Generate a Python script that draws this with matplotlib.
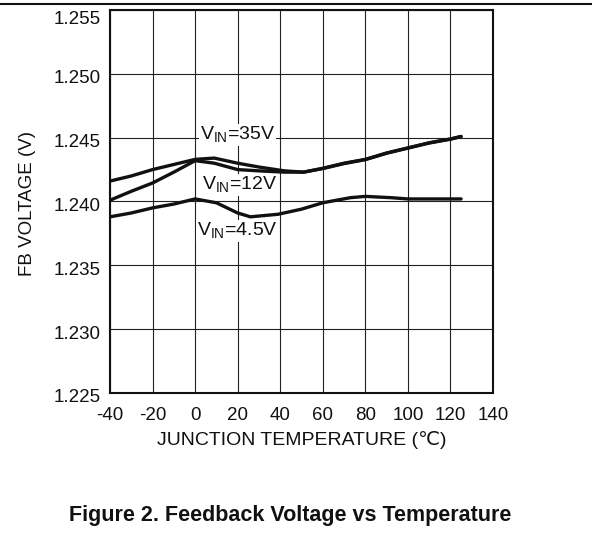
import matplotlib
matplotlib.use("Agg")
import matplotlib.pyplot as plt
import matplotlib.transforms as mtransforms
from matplotlib.lines import Line2D

plt.rcParams['font.family'] = ['Liberation Sans', 'DejaVu Sans']
plt.rcParams['mathtext.fontset'] = 'custom'
plt.rcParams['mathtext.rm'] = 'Liberation Sans'
plt.rcParams['axes.unicode_minus'] = False

# Readings from the curves (temperature in C, FB voltage in V)
temp_35 = [-40, -30, -20, -10, 0, 9, 20, 30, 42, 51, 60, 70, 80, 90, 100, 110, 120, 125]
vfb_35 = [1.2416, 1.2420, 1.2425, 1.2429, 1.2433, 1.2434, 1.2430, 1.2427, 1.2424, 1.2423,
          1.2426, 1.2430, 1.2433, 1.2438, 1.2442, 1.2446, 1.2449, 1.2451]

temp_12 = [-40, -30, -20, -10, 0, 9, 20, 30, 42, 51, 60, 70, 80, 90, 100, 110, 120, 125]
vfb_12 = [1.2401, 1.2408, 1.24145, 1.2423, 1.2432, 1.2430, 1.2425, 1.2424, 1.2423, 1.2423,
          1.24258, 1.24297, 1.24328, 1.24378, 1.24418, 1.24458, 1.24488, 1.24508]

temp_45 = [-40, -30, -20, -10, 0, 10, 20, 26, 39, 50, 60, 73, 80, 92, 100, 110, 120, 125]
vfb_45 = [1.2388, 1.2391, 1.2395, 1.2398, 1.2402, 1.2399, 1.2391, 1.2388, 1.2390, 1.2394,
          1.2399, 1.2403, 1.2404, 1.2403, 1.2402, 1.2402, 1.2402, 1.2402]

series = [
    (temp_35, vfb_35, r"V$_{\mathrm{IN}}$=35V", 20, 1.2452),
    (temp_12, vfb_12, r"V$_{\mathrm{IN}}$=12V", 21, 1.2413),
    (temp_45, vfb_45, r"V$_{\mathrm{IN}}$=4.5V", 20, 1.2377),
]

x_ticks = [-40, -20, 0, 20, 40, 60, 80, 100, 120, 140]
y_ticks = [1.225, 1.230, 1.235, 1.240, 1.245, 1.250, 1.255]

fig = plt.figure(figsize=(5.92, 5.35), dpi=100)
W, H = 592, 535
ax = fig.add_axes([110 / W, 1 - 393 / H, 383 / W, 383 / H])

ax.set_xlim(-40, 140)
ax.set_ylim(1.225, 1.255)
ax.set_xticks(x_ticks)
ax.set_yticks(y_ticks)
ax.set_yticklabels([f"{v:.3f}" for v in y_ticks])
ax.tick_params(length=0, labelsize=13.5, colors='#111111')
ax.tick_params(axis='y', pad=7)
ax.tick_params(axis='x', pad=10)
ax.grid(True, color='#222222', linewidth=0.8)
ax.set_axisbelow(True)
for s in ax.spines.values():
    s.set_linewidth(1.5)
    s.set_color('#111111')

# the y labels in the original sit a little below their grid lines
down = mtransforms.ScaledTranslation(0, -3 / 100, fig.dpi_scale_trans)
ylabels = ax.get_yticklabels()
for lbl in ylabels:
    lbl.set_transform(lbl.get_transform() + down)
ylabels[-1].set_transform(ylabels[-1].get_transform()
                          + mtransforms.ScaledTranslation(0, -5 / 100, fig.dpi_scale_trans))

for t, v, lab, lx, ly in series:
    ax.plot(t, v, color='#111111', linewidth=2.4, solid_joinstyle='round',
            solid_capstyle='round', zorder=3)
    ax.text(lx, ly, lab, fontsize=14, ha='center', va='center', color='#111111', zorder=4,
            bbox=dict(facecolor='white', edgecolor='none', pad=0.5))

ax.set_xlabel("JUNCTION TEMPERATURE (\u2103)", fontsize=14, color='#111111')
ax.xaxis.set_label_coords(0.5, -(440 - 393) / 383)
ax.xaxis.label.set_va('center')
ax.set_ylabel("FB VOLTAGE (V)", fontsize=13.5, color='#111111')
ax.yaxis.set_label_coords(-(110 - 27) / 383, 1 - (204 - 10) / 383)
ax.yaxis.label.set_va('center')

fig.add_artist(Line2D([0, 1], [1 - 4 / H, 1 - 4 / H], color='#111111', linewidth=1.5))
fig.text(290 / W, 1 - 515 / H, "Figure 2. Feedback Voltage vs Temperature",
         fontsize=15.5, fontweight='bold', ha='center', va='center', color='#111111')

fig.savefig("out.png", dpi=100)
